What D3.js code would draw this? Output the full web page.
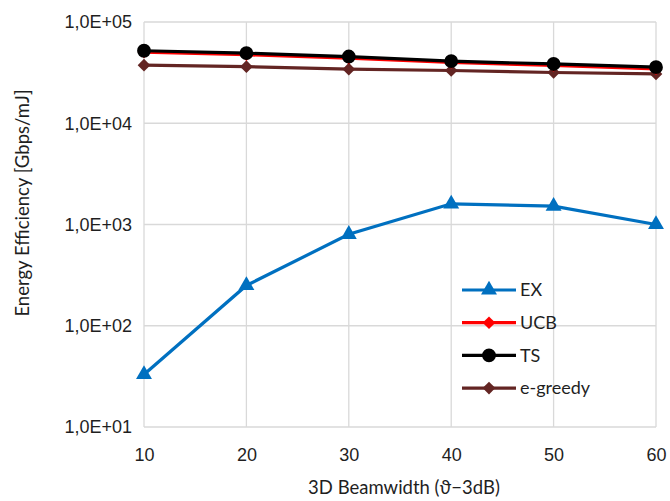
<!DOCTYPE html>
<html lang="en">
<head>
<meta charset="utf-8">
<title>Energy Efficiency vs 3D Beamwidth</title>
<script src="https://cdnjs.cloudflare.com/ajax/libs/d3/7.8.5/d3.min.js"></script>
<style>
  body { margin: 0; background: white; font-family: Lato, "Open Sans", sans-serif; }
  .grid line { stroke: #d9d9d9; stroke-width: 1.3; }
  .axis text { font-size: 18px; fill: #1f1f1f; }
  .axis path, .axis line { display: none; }
  .label { font-size: 18.5px; fill: #1f1f1f; }
  .legend text { font-size: 18px; fill: #1f1f1f; }
</style>
</head>
<body>
<script>
// beamwidth values on x
var beamwidths = [10, 20, 30, 40, 50, 60];
// energy efficiency per algorithm [Gbps/mJ]
var exValues = [33, 250, 800, 1600, 1520, 1000];
var ucbValues = [50500, 47500, 44000, 39800, 37200, 34500];
var tsValues = [52000, 49200, 45600, 41000, 38500, 35800];
var greedyValues = [37500, 36200, 34200, 33200, 31700, 30700];
var yTicks = [10, 100, 1000, 10000, 100000];

var series = [
  { name: "EX", values: exValues, color: "#0070c0", marker: "triangle" },
  { name: "UCB", values: ucbValues, color: "#ff0000", marker: "diamond" },
  { name: "TS", values: tsValues, color: "#000000", marker: "circle" },
  { name: "e-greedy", values: greedyValues, color: "#632523", marker: "diamond" }
];

var fullwidth = 670, fullheight = 501;
var margin = { top: 22, right: 14, bottom: 74, left: 144 };
var width = fullwidth - margin.left - margin.right;
var height = fullheight - margin.top - margin.bottom;

var svg = d3.select("body").append("svg")
  .attr("width", fullwidth)
  .attr("height", fullheight);

var g = svg.append("g")
  .attr("transform", "translate(" + margin.left + "," + margin.top + ")");

var xScale = d3.scaleLinear().domain([10, 60]).range([0, width]);
var yScale = d3.scaleLog().domain([10, 100000]).range([height, 0]);

// gridlines
g.append("g").attr("class", "grid")
  .selectAll("line.h").data(yTicks).enter().append("line")
  .attr("x1", 0).attr("x2", width)
  .attr("y1", function(d) { return yScale(d); })
  .attr("y2", function(d) { return yScale(d); });
g.append("g").attr("class", "grid")
  .selectAll("line.v").data(beamwidths).enter().append("line")
  .attr("y1", 0).attr("y2", height)
  .attr("x1", function(d) { return xScale(d); })
  .attr("x2", function(d) { return xScale(d); });

// axes
var fmt = function(d) {
  var e = Math.round(Math.log10(d));
  return "1,0E+" + (e < 10 ? "0" : "") + e;
};
g.append("g").attr("class", "axis")
  .attr("transform", "translate(-9,0)")
  .call(d3.axisLeft(yScale).tickValues(yTicks).tickFormat(fmt).tickSize(0));
g.append("g").attr("class", "axis")
  .attr("transform", "translate(0," + (height + 18) + ")")
  .call(d3.axisBottom(xScale).tickValues(beamwidths).tickFormat(d3.format("d")).tickSize(0));

// axis titles
svg.append("text").attr("class", "label")
  .attr("x", 404).attr("y", 494)
  .style("text-anchor", "middle")
  .text("3D Beamwidth (\u03d1\u22123dB)");
svg.append("text").attr("class", "label")
  .attr("transform", "translate(29,203) rotate(-90)")
  .style("text-anchor", "middle")
  .text("Energy Efficiency [Gbps/mJ]");

// diamond = square turned 45 degrees, like the spreadsheet marker
var symbols = {
  triangle: { path: d3.symbol().type(d3.symbolTriangle).size(110)(), rot: 0 },
  diamond: { path: d3.symbol().type(d3.symbolSquare).size(80)(), rot: 45 },
  circle: { path: d3.symbol().type(d3.symbolCircle).size(150)(), rot: 0 }
};

var line = d3.line()
  .x(function(d, i) { return xScale(beamwidths[i]); })
  .y(function(d) { return yScale(d); });

// draw in order so TS sits on top of UCB
var drawOrder = [series[0], series[3], series[1], series[2]];
drawOrder.forEach(function(s) {
  var sym = symbols[s.marker];
  g.append("path")
    .datum(s.values)
    .attr("fill", "none")
    .attr("stroke", s.color)
    .attr("stroke-width", 3.2)
    .attr("d", line);
  g.selectAll(null).data(s.values).enter().append("path")
    .attr("d", sym.path)
    .attr("fill", s.color)
    .attr("transform", function(d, i) {
      return "translate(" + xScale(beamwidths[i]) + "," + yScale(d) + ") rotate(" + sym.rot + ")";
    });
});

// legend
var legend = svg.append("g").attr("class", "legend")
  .attr("transform", "translate(462,290)");
series.forEach(function(s, i) {
  var sym = symbols[s.marker];
  var row = legend.append("g").attr("transform", "translate(0," + (i * 32.7) + ")");
  row.append("line")
    .attr("x1", 0).attr("x2", 54)
    .attr("stroke", s.color).attr("stroke-width", 3.2);
  row.append("path")
    .attr("d", sym.path)
    .attr("fill", s.color)
    .attr("transform", "translate(27,0) rotate(" + sym.rot + ")");
  row.append("text")
    .attr("x", 58).attr("dy", "0.35em")
    .text(s.name);
});
</script>
</body>
</html>
